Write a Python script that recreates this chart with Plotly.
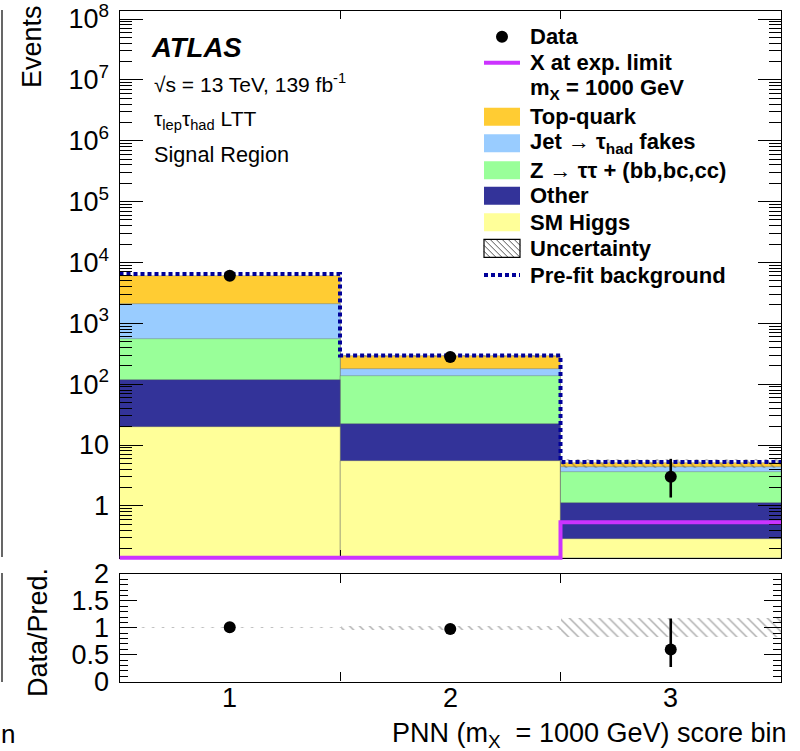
import numpy as np
import plotly.graph_objects as go

W, H = 800, 751

# ---------------- data ----------------
bins = [1, 2, 3]
bin_labels = ["1", "2", "3"]
edges = [0.5, 1.5, 2.5, 3.5]

sm_higgs = [19.5, 5.45, 0.29]
other = [96.5, 17.0, 0.81]
ztautau = [441.0, 112.6, 2.49]
jet_fakes = [1490.0, 44.0, 0.75]
top_quark = [3960.0, 108.0, 0.71]

data = [6060, 280, 3]
data_err_up = [78.0, 17.3, 2.92]
data_err_dn = [78.0, 16.2, 1.63]

prefit = [6460.0, 297.0, 5.25]
signal = [0.01, 0.01, 0.54]
rel_unc = [0.012, 0.04, 0.18]

major_log_vals = [1, 10, 100, 1e3, 1e4, 1e5, 1e6, 1e7, 1e8]
major_log_text = ["1", "10", "10<sup>2</sup>", "10<sup>3</sup>", "10<sup>4</sup>",
                  "10<sup>5</sup>", "10<sup>6</sup>", "10<sup>7</sup>", "10<sup>8</sup>"]

# ---------------- styles ----------------
C_TOP = "#FFCC33"
C_JET = "#99CCFF"
C_Z = "#99FF99"
C_OTH = "#333399"
C_HIG = "#FFFF99"
C_SIG = "#CC33FF"
C_PRE = "#000099"
FONT = "Liberation Sans"
TICK_SIZE = 27

# pixel geometry
XL, XR = 119.5, 781.0
MT, MB = 11.0, 557.7
RT, RB = 574.0, 681.5
LOGMIN, LOGMAX = -0.852, 8.132
ppd = (MB - MT) / (LOGMAX - LOGMIN)


def px(x):
    return x / W


def py(y):
    return 1 - y / H


# ---------------- derived ----------------
layers = [("Top-quark", C_TOP), ("Jet", C_JET), ("Z", C_Z), ("Other", C_OTH), ("Higgs", C_HIG)]
order_bottom_up = [sm_higgs, other, ztautau, jet_fakes, top_quark]
cum = np.cumsum(np.array(order_bottom_up), axis=0)
tops = {"Higgs": cum[0], "Other": cum[1], "Z": cum[2], "Jet": cum[3], "Top-quark": cum[4]}
pred = cum[4]
unc_lo = pred * (1 - np.array(rel_unc))
unc_hi = pred * (1 + np.array(rel_unc))
data_a = np.array(data, dtype=float)
ratio = data_a / pred
ratio_up = np.array(data_err_up) / pred
ratio_dn = np.array(data_err_dn) / pred

fig = go.Figure()

# stacked histogram, drawn tallest first from zero
for name, col in layers:
    fig.add_trace(go.Bar(x=bins, y=tops[name], width=1.0,
                         marker=dict(color=col, line=dict(width=0.6, color="rgba(90,90,90,0.6)")),
                         xaxis="x", yaxis="y", showlegend=False, hoverinfo="skip"))

hatch = dict(shape="\\", fgcolor="#555555", bgcolor="rgba(0,0,0,0)", size=7, solidity=0.2, fillmode="overlay")
fig.add_trace(go.Bar(x=bins, base=unc_lo, y=unc_hi - unc_lo, width=1.0,
                     marker=dict(color="rgba(0,0,0,0)", line=dict(width=0), pattern=hatch),
                     xaxis="x", yaxis="y", showlegend=False, hoverinfo="skip"))

# prefit background step
fig.add_trace(go.Scatter(x=edges, y=list(prefit) + [prefit[-1]], mode="lines", line_shape="hv",
                         line=dict(color=C_PRE, width=4, dash="4px,3px"), xaxis="x", yaxis="y",
                         showlegend=False, hoverinfo="skip"))

# data
fig.add_trace(go.Scatter(x=bins, y=data, mode="markers", marker=dict(color="black", size=12),
                         error_y=dict(type="data", symmetric=False, array=data_err_up, arrayminus=data_err_dn,
                                      color="black", thickness=2.6, width=0),
                         xaxis="x", yaxis="y", showlegend=False, hoverinfo="skip"))

# signal on an overlay subplot with slightly extended clip region at bottom
ext = 4.0
sig_draw = np.maximum(np.array(signal), 10 ** LOGMIN)
fig.add_trace(go.Scatter(x=edges, y=list(sig_draw) + [sig_draw[-1]], mode="lines", line_shape="hv",
                         line=dict(color=C_SIG, width=4), xaxis="x3", yaxis="y3",
                         showlegend=False, hoverinfo="skip"))

# ratio band and points
fig.add_trace(go.Bar(x=bins, base=1 - np.array(rel_unc), y=2 * np.array(rel_unc), width=1.0,
                     marker=dict(color="rgba(0,0,0,0)", line=dict(width=0),
                                 pattern=dict(shape="\\", fgcolor="#555555", bgcolor="rgba(0,0,0,0)",
                                              size=7, solidity=0.2, fillmode="overlay")),
                     xaxis="x2", yaxis="y2", showlegend=False, hoverinfo="skip"))
fig.add_trace(go.Scatter(x=bins, y=ratio, mode="markers", marker=dict(color="black", size=12),
                         error_y=dict(type="data", symmetric=False, array=ratio_up, arrayminus=ratio_dn,
                                      color="black", thickness=2.6, width=0),
                         xaxis="x2", yaxis="y2", showlegend=False, hoverinfo="skip"))

# ---------------- axes ----------------
minor_log = [m * 10.0 ** k for k in range(-1, 9) for m in range(2, 10)
             if LOGMIN <= np.log10(m * 10.0 ** k) <= LOGMAX]

axis_common = dict(showline=True, linecolor="black", linewidth=1.2, mirror="ticks",
                   ticks="inside", tickcolor="black", tickwidth=1, showgrid=False, zeroline=False,
                   tickfont=dict(family=FONT, size=TICK_SIZE, color="black"))

fig.update_layout(
    width=W, height=H, margin=dict(l=0, r=0, t=0, b=0, autoexpand=False),
    paper_bgcolor="white", plot_bgcolor="rgba(0,0,0,0)",
    barmode="overlay", bargap=0, showlegend=False,
    xaxis=dict(domain=[px(XL), px(XR)], range=[0.5, 3.5], anchor="y",
               tickvals=[1.5, 2.5], ticklen=8, showticklabels=False, **axis_common),
    yaxis=dict(domain=[py(MB), py(MT)], type="log", range=[LOGMIN, LOGMAX], anchor="x",
               tickvals=major_log_vals, ticktext=major_log_text, ticklen=23, ticklabelstandoff=4,
               minor=dict(tickvals=minor_log, ticklen=12, ticks="inside", tickcolor="black", tickwidth=1),
               **axis_common),
    xaxis2=dict(domain=[px(XL), px(XR)], range=[0.5, 3.5], anchor="y2",
                tickvals=[1.5, 2.5], ticklen=9, showticklabels=False,
                **axis_common),
    yaxis2=dict(domain=[py(RB), py(RT)], range=[0, 2], anchor="x2",
                tickvals=[0, 0.5, 1, 1.5, 2], ticktext=["0", "0.5", "1", "1.5", "2"], ticklen=17,
                ticklabelstandoff=4,
                minor=dict(dtick=0.1, tick0=0, ticklen=8, ticks="inside", tickcolor="black", tickwidth=1),
                **axis_common),
    xaxis3=dict(domain=[px(XL), px(XR)], range=[0.5, 3.5], anchor="y3", visible=False),
    yaxis3=dict(domain=[py(MB + ext), py(MT)], type="log", range=[LOGMIN - ext / ppd, LOGMAX],
                anchor="x3", visible=False),
)

# ---------------- text ----------------
ann = []


def text(x, y, s, size=20, xanchor="left", yanchor="middle", angle=0):
    ann.append(dict(x=px(x), y=py(y), xref="paper", yref="paper", text=s, showarrow=False,
                    xanchor=xanchor, yanchor=yanchor, textangle=angle,
                    font=dict(family=FONT, size=size, color="black")))


# bin labels of the ratio x axis (placed at the bin centres on the data axis)
for b, lab in zip(bins, bin_labels):
    ann.append(dict(x=b, y=py(698), xref="x2", yref="paper", text=lab, showarrow=False,
                    xanchor="center", yanchor="middle",
                    font=dict(family=FONT, size=TICK_SIZE, color="black")))

text(149, 47, "<b><i>ATLAS</i></b>", size=27.5)
text(152, 83, "√s = 13 TeV, 139 fb<sup>-1</sup>", size=21)
text(152, 120, "τ<sub>lep</sub>τ<sub>had</sub> LTT", size=21)
text(152, 154, "Signal Region", size=21.7)

text(32, 47, "Events", size=27, xanchor="center", yanchor="middle", angle=-90)
text(38, 633, "Data/Pred.", size=27, xanchor="center", yanchor="middle", angle=-90)
text(789, 735, "PNN (m<sub>X</sub>  = 1000 GeV) score bin", size=27, xanchor="right")
text(-1, 734, "n", size=26, xanchor="left")

leg_x = 528
leg_rows = [36.7, 62.7, 89, 116.7, 143.3, 170.3, 195.7, 222.3, 248.3, 275]
leg_txt = ["<b>Data</b>", "<b>X at exp. limit</b>", "<b>m<sub>X</sub> = 1000 GeV</b>", "<b>Top-quark</b>",
           "<b>Jet → τ<sub>had</sub> fakes</b>", "<b>Z → ττ + (bb,bc,cc)</b>", "<b>Other</b>",
           "<b>SM Higgs</b>", "<b>Uncertainty</b>", "<b>Pre-fit background</b>"]
for yy, t in zip(leg_rows, leg_txt):
    text(leg_x, yy, t, size=22)

fig.update_layout(annotations=ann)

# ---------------- legend symbols ----------------
shapes = []
bx0, bx1 = 484, 520
for yy, col in zip(leg_rows[3:8], [C_TOP, C_JET, C_Z, C_OTH, C_HIG]):
    shapes.append(dict(type="rect", xref="paper", yref="paper", x0=px(bx0), x1=px(bx1),
                       y0=py(yy + 9), y1=py(yy - 9), fillcolor=col, line=dict(width=0)))
cx, cy, r = 502, leg_rows[0], 6
shapes.append(dict(type="circle", xref="paper", yref="paper", x0=px(cx - r), x1=px(cx + r),
                   y0=py(cy + r), y1=py(cy - r), fillcolor="black", line=dict(width=0)))
shapes.append(dict(type="line", xref="paper", yref="paper", x0=px(bx0), x1=px(bx1),
                   y0=py(leg_rows[1]), y1=py(leg_rows[1]), line=dict(color=C_SIG, width=4)))
uy = leg_rows[8]
ut, ub = uy - 9, uy + 9
hh = ub - ut
segs = []
s = bx0 - hh
while s < bx1:
    xa = max(s, bx0)
    ya = ut + (xa - s)
    xb = min(s + hh, bx1)
    yb = ut + (xb - s)
    if xb > xa:
        segs.append(f"M {px(xa):.5f} {py(ya):.5f} L {px(xb):.5f} {py(yb):.5f}")
    s += 6
shapes.append(dict(type="path", xref="paper", yref="paper", path=" ".join(segs),
                   line=dict(color="#555555", width=1)))
shapes.append(dict(type="rect", xref="paper", yref="paper", x0=px(bx0), x1=px(bx1),
                   y0=py(ub), y1=py(ut), fillcolor="rgba(0,0,0,0)", line=dict(color="black", width=1.2)))
shapes.append(dict(type="line", xref="paper", yref="paper", x0=px(bx0), x1=px(bx1),
                   y0=py(leg_rows[9]), y1=py(leg_rows[9]), line=dict(color=C_PRE, width=4, dash="4px,3px")))
# clipped neighbouring panel frame at the left edge
shapes.append(dict(type="line", xref="paper", yref="paper", x0=px(2), x1=px(2),
                   y0=py(557), y1=py(10), line=dict(color="black", width=1.2)))
shapes.append(dict(type="line", xref="paper", yref="paper", x0=px(2), x1=px(2),
                   y0=py(682), y1=py(573), line=dict(color="black", width=1.2)))

fig.update_layout(shapes=shapes)

fig.write_html("out.html", config={"displayModeBar": False},
               post_script="document.body.style.margin='0';document.body.style.overflow='hidden';"
                           "document.documentElement.style.overflow='hidden';")
